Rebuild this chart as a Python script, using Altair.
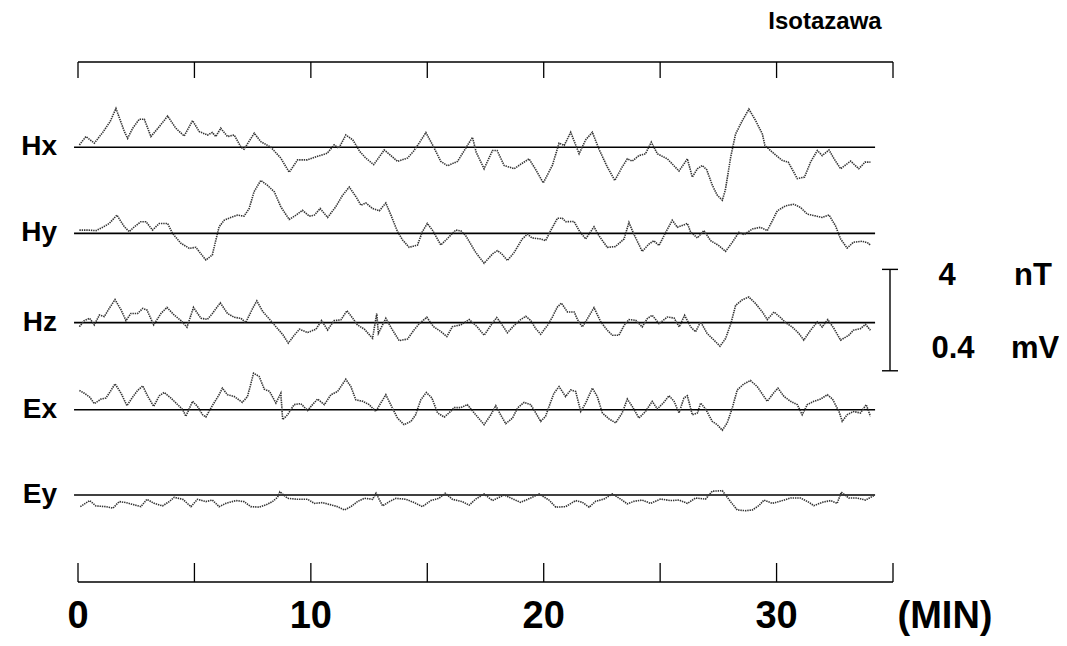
import altair as alt
import pandas as pd

# ---- data (t in minutes, values in nT for H, mV for E) ----
HX = [(0.06,0.09),(0.34,0.42),(0.7,0.16),(1.06,0.58),(1.38,1.01),(1.63,1.53),(1.99,0.62),(2.13,0.35),
      (2.35,0.75),(2.63,1.10),(2.85,1.10),(3.13,0.42),(3.49,0.81),(3.85,1.23),(4.2,0.75),(4.56,0.44),
      (4.92,1.05),(5.2,0.62),(5.56,0.48),(5.77,0.58),(5.92,0.42),(6.13,0.75),(6.42,0.42),(6.71,0.48),
      (7.0,0.0),(7.13,-0.08),(7.57,0.55),(7.85,0.22),(8.28,0.0),(8.71,-0.43),(9.07,-0.99),(9.43,-0.50),
      (9.85,-0.50),(10.29,-0.36),(10.7,-0.24),(11.0,0.09),(11.2,-0.04),(11.5,0.48),(11.8,0.29),(12.1,-0.17),
      (12.36,-0.43),(12.7,-0.69),(13.15,-0.11),(13.4,-0.30),(13.72,-0.56),(14.15,-0.43),(14.4,-0.17),
      (14.65,0.16),(14.94,0.58),(15.3,-0.04),(15.58,-0.56),(15.87,-0.73),(16.3,-0.56),(16.65,-0.04),
      (16.94,0.39),(17.1,-0.20),(17.44,-0.85),(17.8,-0.13),(18.0,-0.13),(18.3,-0.72),(18.73,-0.85),
      (19.0,-0.68),(19.37,-0.46),(19.66,-0.89),(19.98,-1.41),(20.37,-0.72),(20.66,0.16),(20.88,0.07),
      (21.16,0.59),(21.52,-0.26),(21.8,0.29),(22.09,0.59),(22.37,-0.07),(22.73,-0.78),(23.05,-1.31),
      (23.37,-0.78),(23.59,-0.46),(23.8,-0.55),(24.09,-0.33),(24.37,-0.26),(24.62,0.20),(24.88,-0.26),
      (25.31,-0.46),(25.81,-0.94),(26.17,-0.46),(26.38,-1.18),(26.6,-0.85),(26.81,-0.72),(27.0,-0.89),
      (27.24,-1.50),(27.45,-1.89),(27.67,-2.09),(27.8,-1.69),(28.03,-0.39),(28.24,0.52),(28.53,1.05),
      (28.81,1.50),(29.1,1.05),(29.39,0.52),(29.5,0.07),(29.82,-0.20),(30.24,-0.52),(30.5,-0.59),
      (30.89,-1.24),(31.2,-1.18),(31.46,-0.59),(31.75,-0.13),(31.96,-0.33),(32.25,-0.11),(32.47,-0.46),
      (32.75,-0.85),(33.18,-0.55),(33.53,-0.85),(33.8,-0.59),(34.03,-0.59)]

HY = [(0.06,0.13),(0.4,0.13),(0.77,0.11),(1.06,0.24),(1.34,0.39),(1.67,0.72),(1.99,0.26),(2.2,0.07),
      (2.42,0.26),(2.7,0.46),(2.92,0.46),(3.2,0.13),(3.49,0.39),(3.85,0.39),(4.06,0.0),(4.42,-0.39),
      (4.78,-0.59),(5.06,-0.55),(5.49,-1.05),(5.77,-0.85),(5.92,-0.26),(6.06,0.26),(6.28,0.52),(6.56,0.63),
      (6.85,0.72),(7.13,0.68),(7.35,0.98),(7.56,1.64),(7.85,2.09),(8.14,1.89),(8.43,1.64),(8.71,1.05),
      (9.07,0.55),(9.36,0.72),(9.64,0.91),(9.93,0.68),(10.15,0.72),(10.4,0.98),(10.72,0.63),(11.07,1.05),
      (11.36,1.50),(11.65,1.83),(11.94,1.44),(12.15,1.11),(12.36,1.20),(12.65,0.98),(12.94,0.89),
      (13.22,1.20),(13.44,0.72),(13.72,0.07),(13.94,-0.26),(14.22,-0.55),(14.58,-0.46),(14.79,0.07),
      (15.0,0.39),(15.22,0.13),(15.58,-0.46),(15.87,-0.20),(16.22,0.13),(16.44,0.10),(16.65,-0.09),
      (17.08,-0.75),(17.44,-1.18),(17.8,-0.81),(18.01,-0.68),(18.2,-0.81),(18.44,-1.07),(18.73,-0.75),
      (19.08,-0.22),(19.3,-0.03),(19.5,-0.18),(19.87,-0.22),(20.08,-0.29),(20.3,0.11),(20.59,0.60),
      (20.8,0.60),(20.95,0.46),(21.3,0.47),(21.52,0.11),(21.8,-0.22),(22.16,0.26),(22.37,-0.09),
      (22.73,-0.55),(23.08,-0.52),(23.45,-0.22),(23.66,0.43),(23.87,-0.03),(24.23,-0.71),(24.52,-0.42),
      (24.73,-0.29),(24.95,-0.48),(25.24,0.04),(25.52,0.52),(25.74,0.24),(26.17,0.39),(26.31,0.05),
      (26.6,-0.18),(26.88,0.11),(27.17,-0.29),(27.52,-0.48),(27.81,-0.71),(28.1,-0.35),(28.38,0.04),
      (28.6,-0.05),(28.96,0.17),(29.31,0.24),(29.6,0.11),(29.82,0.50),(30.03,0.89),(30.39,1.09),
      (30.74,1.15),(31.03,1.02),(31.32,0.76),(31.67,0.69),(31.96,0.63),(32.25,0.73),(32.53,0.30),
      (32.75,-0.22),(33.03,-0.58),(33.3,-0.35),(33.68,-0.31),(33.96,-0.39),(34.03,-0.48)]

HZ = [(0.06,-0.16),(0.27,0.08),(0.5,0.17),(0.7,-0.09),(0.92,0.30),(1.13,0.24),(1.34,0.56),(1.59,0.91),
      (1.85,0.50),(2.06,0.08),(2.27,0.36),(2.56,0.36),(2.78,0.56),(2.96,0.50),(3.25,-0.09),(3.56,0.36),
      (3.82,0.60),(4.13,0.30),(4.42,0.08),(4.68,-0.18),(4.96,0.60),(5.28,0.17),(5.56,0.13),(5.77,0.36),
      (6.11,0.78),(6.42,0.36),(6.71,0.21),(7.0,0.17),(7.2,0.0),(7.5,0.56),(7.68,0.86),(7.94,0.43),
      (8.23,0.13),(8.5,-0.16),(8.8,-0.48),(9.03,-0.81),(9.3,-0.48),(9.51,-0.26),(9.86,-0.39),(10.22,-0.26),
      (10.46,0.08),(10.72,-0.29),(11.0,0.08),(11.29,0.11),(11.55,0.47),(11.8,0.17),(12.0,-0.09),
      (12.3,-0.26),(12.65,-0.62),(12.83,0.36),(12.9,-0.42),(13.22,0.17),(13.46,-0.22),(13.79,-0.71),
      (14.15,-0.65),(14.43,-0.29),(14.65,-0.05),(14.98,0.21),(15.27,-0.16),(15.58,-0.35),(15.84,-0.55),
      (16.08,-0.16),(16.44,-0.09),(16.8,0.12),(17.15,-0.17),(17.44,-0.50),(17.73,-0.11),(17.98,0.20),
      (18.15,0.0),(18.44,-0.40),(18.73,-0.11),(19.01,0.12),(19.23,0.25),(19.44,0.09),(19.66,-0.24),
      (19.87,-0.46),(20.16,-0.11),(20.37,0.22),(20.59,0.62),(20.76,0.77),(21.02,0.42),(21.31,0.42),
      (21.45,0.12),(21.66,-0.17),(21.88,0.16),(22.16,0.59),(22.45,0.03),(22.73,-0.30),(22.95,-0.50),
      (23.23,-0.50),(23.45,-0.11),(23.66,0.12),(23.95,0.09),(24.23,-0.17),(24.45,0.16),(24.66,0.29),
      (24.95,-0.04),(25.31,0.22),(25.6,0.18),(25.82,-0.17),(26.05,0.29),(26.31,-0.17),(26.52,-0.36),
      (26.74,0.03),(27.02,-0.43),(27.31,-0.69),(27.57,-0.93),(27.81,-0.63),(28.05,0.0),(28.24,0.68),
      (28.53,0.90),(28.81,1.01),(29.1,0.75),(29.39,0.42),(29.6,0.12),(29.89,0.42),(30.17,0.20),
      (30.39,0.0),(30.67,-0.17),(30.96,-0.43),(31.17,-0.69),(31.46,-0.30),(31.75,0.03),(31.96,-0.17),
      (32.2,0.12),(32.47,-0.24),(32.75,-0.69),(33.1,-0.50),(33.3,-0.30),(33.6,-0.24),(33.82,-0.07),
      (34.03,-0.30)]

EX = [(0.06,0.076),(0.27,0.065),(0.5,0.050),(0.7,0.024),(0.99,0.042),(1.2,0.046),(1.39,0.072),
      (1.59,0.102),(1.85,0.065),(2.1,0.016),(2.35,0.050),(2.56,0.076),(2.78,0.094),(3.0,0.052),
      (3.25,0.013),(3.49,0.055),(3.7,0.068),(3.99,0.046),(4.28,0.020),(4.5,0.0),(4.63,-0.026),
      (4.92,0.033),(5.13,0.013),(5.35,-0.020),(5.49,-0.029),(5.77,0.016),(6.06,0.059),(6.2,0.085),
      (6.42,0.059),(6.71,0.052),(7.06,0.029),(7.28,0.052),(7.54,0.144),(7.78,0.131),(8.0,0.081),
      (8.23,0.072),(8.5,0.026),(8.71,0.065),(8.79,-0.039),(9.0,-0.020),(9.28,0.020),(9.57,0.024),
      (9.86,-0.003),(10.07,0.020),(10.29,0.042),(10.58,0.020),(10.86,0.059),(11.15,0.072),(11.5,0.120),
      (11.72,0.091),(11.93,0.039),(12.23,0.033),(12.5,0.020),(12.79,-0.007),(13.0,0.026),(13.22,0.059),
      (13.5,0.007),(13.72,-0.033),(14.0,-0.059),(14.3,-0.046),(14.5,-0.020),(14.72,0.039),(14.96,0.068),
      (15.2,0.046),(15.44,-0.013),(15.73,-0.029),(16.0,-0.007),(16.16,0.008),(16.44,0.008),(16.72,0.020),
      (17.08,-0.020),(17.44,-0.059),(17.73,-0.020),(17.94,0.016),(18.15,-0.020),(18.37,-0.055),
      (18.66,-0.033),(18.88,0.007),(19.16,0.029),(19.44,0.020),(19.66,-0.013),(19.87,-0.046),
      (20.08,-0.026),(20.23,0.013),(20.44,0.065),(20.66,0.091),(20.94,0.052),(21.16,0.078),(21.37,0.072),
      (21.59,-0.007),(21.8,0.026),(22.09,0.085),(22.3,0.052),(22.52,-0.013),(22.8,-0.036),(23.09,-0.052),
      (23.37,-0.013),(23.59,0.042),(23.8,0.013),(24.09,-0.033),(24.37,-0.007),(24.66,0.033),(24.88,0.003),
      (25.16,0.029),(25.38,0.055),(25.6,0.033),(25.81,-0.013),(26.02,0.046),(26.17,0.055),(26.38,-0.020),
      (26.6,-0.013),(26.74,0.026),(26.95,0.003),(27.24,-0.046),(27.45,-0.059),(27.67,-0.081),
      (27.88,-0.052),(28.1,0.007),(28.31,0.078),(28.6,0.102),(28.88,0.115),(29.17,0.091),(29.46,0.052),
      (29.6,0.033),(29.89,0.068),(30.06,0.085),(30.32,0.052),(30.6,0.033),(30.89,0.020),(31.1,-0.020),
      (31.32,0.020),(31.6,0.033),(31.89,0.042),(32.18,0.059),(32.4,0.042),(32.68,-0.007),(32.82,-0.046),
      (33.03,-0.020),(33.3,-0.007),(33.6,-0.013),(33.85,0.020),(34.03,-0.026)]

EY = [(0.1,-0.046),(0.5,-0.022),(0.77,-0.043),(1.2,-0.046),(1.5,-0.052),(1.77,-0.026),(2.06,-0.030),
      (2.42,-0.039),(2.7,-0.046),(2.96,-0.017),(3.27,-0.033),(3.63,-0.043),(3.92,-0.026),(4.13,-0.009),
      (4.5,-0.017),(4.85,-0.046),(5.13,-0.017),(5.49,-0.026),(5.77,-0.020),(6.06,-0.046),(6.35,-0.033),
      (6.78,-0.022),(7.13,-0.026),(7.42,-0.046),(7.78,-0.048),(8.07,-0.039),(8.35,-0.026),(8.57,-0.009),
      (8.67,0.013),(9.0,-0.013),(9.43,-0.017),(9.86,-0.017),(10.15,-0.033),(10.5,-0.030),(10.86,-0.039),
      (11.15,-0.046),(11.44,-0.059),(11.72,-0.046),(12.0,-0.026),(12.3,-0.013),(12.65,-0.017),(12.8,0.007),
      (13.08,-0.043),(13.37,-0.026),(13.65,-0.013),(14.08,-0.017),(14.44,-0.030),(14.79,-0.046),
      (15.15,-0.022),(15.5,-0.013),(15.77,0.007),(16.08,-0.017),(16.5,-0.026),(16.8,-0.040),(17.08,-0.016),
      (17.44,0.004),(17.8,-0.022),(18.3,0.0),(18.59,-0.012),(19.0,-0.029),(19.44,-0.012),(19.8,0.004),
      (20.23,-0.020),(20.52,-0.048),(20.94,-0.046),(21.37,-0.022),(21.66,-0.029),(21.95,-0.048),
      (22.23,-0.025),(22.59,-0.016),(22.95,0.004),(23.3,-0.016),(23.59,-0.035),(23.87,-0.025),
      (24.23,-0.020),(24.59,-0.033),(25.02,-0.016),(25.45,-0.022),(25.81,-0.020),(26.17,-0.033),
      (26.52,-0.012),(26.95,-0.016),(27.24,0.015),(27.67,0.017),(27.88,-0.009),(28.1,-0.035),
      (28.31,-0.059),(28.67,-0.062),(28.96,-0.059),(29.24,-0.042),(29.46,-0.020),(29.82,-0.033),
      (30.25,-0.022),(30.6,-0.012),(31.03,-0.012),(31.39,-0.029),(31.6,-0.042),(31.96,-0.029),
      (32.32,-0.022),(32.6,-0.033),(32.78,0.011),(33.1,-0.012),(33.46,-0.012),(33.82,-0.020),
      (34.17,-0.003)]

CHANNELS = ["Hx", "Hy", "Hz", "Ex", "Ey"]
SERIES = [HX, HY, HZ, EX, EY]
GAIN = {"Hx": 1.0, "Hy": 1.0, "Hz": 1.0, "Ex": 10.0, "Ey": 10.0}   # 4 nT <-> 0.4 mV
OFFSET = {"Hx": 13.72, "Hy": 10.32, "Hz": 6.80, "Ex": 3.365, "Ey": 0.0}  # trace spacing (nT units)

TICKS = [0, 5, 10, 15, 20, 25, 30, 35]
TICK_LABELS = [0, 10, 20, 30]
TRACE_START, TRACE_END = -0.17, 34.23

rows = []
for ch, pts in zip(CHANNELS, SERIES):
    for t, v in pts:
        rows.append({"ch": ch, "t": t, "y": OFFSET[ch] + GAIN[ch] * v})
df = pd.DataFrame(rows)

base_df = pd.DataFrame({"ch": CHANNELS, "t0": TRACE_START, "t1": TRACE_END,
                        "y": [OFFSET[c] for c in CHANNELS]})
ticks_df = pd.DataFrame({"t": TICKS})
frame_df = pd.DataFrame({"t0": [TICKS[0]], "t1": [TICKS[-1]]})
lab_df = pd.DataFrame({"t": TICK_LABELS, "s": [str(v) for v in TICK_LABELS]})

XS = alt.Scale(domain=[0, 35], range=[70, 885])
YS = alt.Scale(domain=[0, 4], range=[487, 385.6])

traces = alt.Chart(df).mark_line(color="#333333", strokeWidth=1.6, strokeDash=[1.4, 0.9]).encode(
    x=alt.X("t:Q", scale=XS, axis=None),
    y=alt.Y("y:Q", scale=YS, axis=None),
    detail="ch:N",
)

baselines = alt.Chart(base_df).mark_rule(color="black", strokeWidth=1.6).encode(
    x=alt.X("t0:Q", scale=XS, axis=None), x2="t1:Q",
    y=alt.Y("y:Q", scale=YS, axis=None),
)

names = alt.Chart(base_df).mark_text(
    align="right", baseline="middle", font="Liberation Sans", fontWeight="bold", fontSize=28, color="black"
).encode(x=alt.value(49), y=alt.Y("y:Q", scale=YS, axis=None), text="ch:N")

top_line = alt.Chart(frame_df).mark_rule(color="black", strokeWidth=1.3).encode(
    x=alt.X("t0:Q", scale=XS, axis=None), x2="t1:Q", y=alt.value(54))
top_ticks = alt.Chart(ticks_df).mark_rule(color="black", strokeWidth=1.3).encode(
    x=alt.X("t:Q", scale=XS, axis=None), y=alt.value(54), y2=alt.value(70))
bot_line = alt.Chart(frame_df).mark_rule(color="black", strokeWidth=1.3).encode(
    x=alt.X("t0:Q", scale=XS, axis=None), x2="t1:Q", y=alt.value(574))
bot_ticks = alt.Chart(ticks_df).mark_rule(color="black", strokeWidth=1.3).encode(
    x=alt.X("t:Q", scale=XS, axis=None), y=alt.value(555), y2=alt.value(574))

num_labels = alt.Chart(lab_df).mark_text(
    align="center", baseline="middle", font="Liberation Sans",
    fontWeight="bold", fontSize=38, color="black"
).encode(x=alt.X("t:Q", scale=XS, axis=None), y=alt.value(609), text="s:N")

def note(txt, x, y, size, align="center", font="Liberation Sans"):
    return alt.Chart(pd.DataFrame({"s": [txt]})).mark_text(
        align=align, baseline="middle", font=font, fontWeight="bold", fontSize=size, color="black"
    ).encode(x=alt.value(x), y=alt.value(y), text="s:N")

min_label = note("(MIN)", 937, 609, 38)
title = note("Isotazawa", 817, 14, 24)

# scale bar: 4 nT / 0.4 mV
BAR_BASE = 4.9
bar_df = pd.DataFrame({"y0": [BAR_BASE], "y1": [BAR_BASE + 4]})
bar = alt.Chart(bar_df).mark_rule(color="black", strokeWidth=1.4).encode(
    x=alt.value(882), y=alt.Y("y0:Q", scale=YS, axis=None), y2="y1:Q")
cap_top = alt.Chart(bar_df).mark_rule(color="black", strokeWidth=1.4).encode(
    x=alt.value(874), x2=alt.value(890), y=alt.Y("y1:Q", scale=YS, axis=None))
cap_bot = alt.Chart(bar_df).mark_rule(color="black", strokeWidth=1.4).encode(
    x=alt.value(874), x2=alt.value(890), y=alt.Y("y0:Q", scale=YS, axis=None))

bar_labels = [note("4", 939, 268, 31), note("nT", 1025, 268, 31),
              note("0.4", 945, 341, 31), note("mV", 1027, 341, 31)]

chart = alt.layer(
    top_line, top_ticks, bot_line, bot_ticks, baselines, traces, names,
    num_labels, min_label, title, bar, cap_top, cap_bot, *bar_labels
).properties(
    width=1051, height=630, autosize=alt.AutoSizeParams(type="none"), padding=0,
    background="white"
).configure_view(stroke="transparent", strokeWidth=0)

chart.save("out.html", embed_options={"renderer": "svg", "actions": False})
